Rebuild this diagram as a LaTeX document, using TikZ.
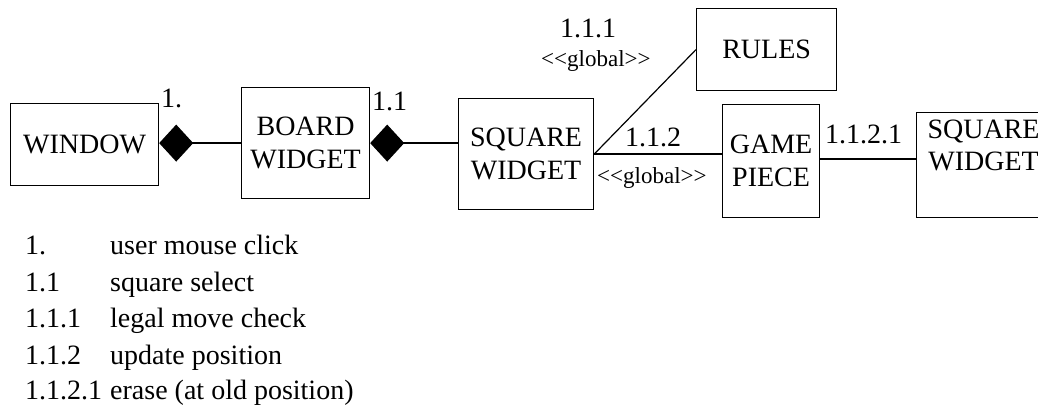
\documentclass[tikz,border=0pt]{standalone}
\usepackage{fontspec}
\setmainfont{Liberation Serif}
\usetikzlibrary{arrows.meta}
\begin{document}
\begin{tikzpicture}[x=1pt,y=1pt,
  box/.style={draw, line width=1.2pt, inner sep=0pt, anchor=north west, align=center, font=\fontsize{28}{33}\selectfont},
  lbl/.style={inner sep=0pt, anchor=base west, font=\fontsize{28}{33}\selectfont},
  stereo/.style={inner sep=0pt, anchor=base west, font=\fontsize{23}{27}\selectfont},
  link/.style={line width=1.2pt},
  comp/.style={link, -{Diamond[length=34pt,width=37pt]}},
]
\useasboundingbox (0,0) rectangle (1038,-406);
\clip (0,0) rectangle (1038,-406);
% boxes
\node[box, minimum width=148pt, minimum height=82pt] (window) at (10,-103) {WINDOW};
\node[box, minimum width=128pt, minimum height=111pt] (board) at (241,-87) {BOARD\\WIDGET};
\node[box, minimum width=135pt, minimum height=111pt] (square) at (458,-98) {SQUARE\\WIDGET};
\node[box, minimum width=140pt, minimum height=82pt] (rules) at (696,-8) {RULES};
\node[box, minimum width=97pt, minimum height=113pt] (game) at (722,-104) {GAME\\PIECE};
\node[box, minimum width=134pt, minimum height=105pt] (sqtwo) at (916,-112) {};
\node[lbl, anchor=north, align=center, font=\fontsize{28}{32}\selectfont] (sqtwotext) at ([yshift=-8pt]sqtwo.north) {SQUARE\\WIDGET};
% connectors
\draw[comp] (board.west) -- (window.east |- board.west);
\draw[comp] (square.west |- board.east) -- (board.east);
\draw[link] (square.east) -- (rules.west);
\draw[link] (square.east) -- (square.east -| game.west);
\draw[link] ([yshift=2pt]game.east) -- ([yshift=2pt]game.east -| sqtwo.west);
% link labels
\node[lbl] (l1) at (161,-108) {1.};
\node[lbl] (l11) at (372,-111) {1.1};
\node[lbl] (l111) at (560,-38) {1.1.1};
\node[stereo] (g1) at (541,-67) {{<}{<}global{>}{>}};
\node[lbl] (l112) at (625,-147) {1.1.2};
\node[stereo] (g2) at (597,-183) {{<}{<}global{>}{>}};
\node[lbl] (l1121) at (825,-144) {1.1.2.1};
% legend
\node[lbl] (n1) at (25,-254) {1.};
\node[lbl] (t1) at (110,-254) {user mouse click};
\node[lbl] (n2) at (25,-291) {1.1};
\node[lbl] (t2) at (110,-291) {square select};
\node[lbl] (n3) at (25,-327) {1.1.1};
\node[lbl] (t3) at (110,-327) {legal move check};
\node[lbl] (n4) at (25,-364) {1.1.2};
\node[lbl] (t4) at (110,-364) {update position};
\node[lbl] (n5) at (25,-399) {1.1.2.1};
\node[lbl] (t5) at (110,-399) {erase (at old position)};
\end{tikzpicture}
\end{document}
